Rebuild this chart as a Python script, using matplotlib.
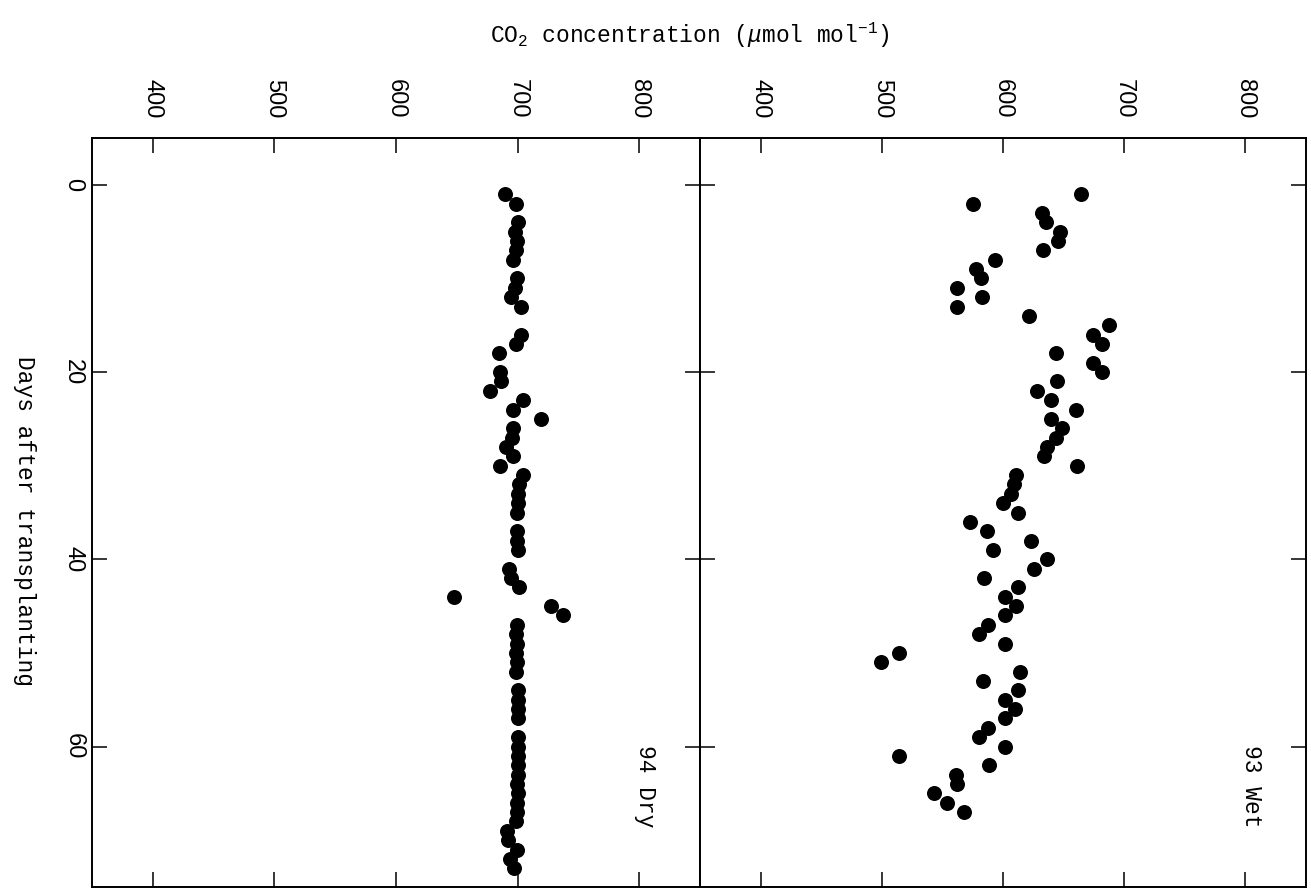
import matplotlib
matplotlib.use('Agg')
import matplotlib.pyplot as plt

plt.rcParams['font.family'] = 'Liberation Sans'
plt.rcParams['mathtext.fontset'] = 'custom'
plt.rcParams['mathtext.rm'] = 'Liberation Mono'
plt.rcParams['mathtext.it'] = 'Liberation Mono:italic'

# 1993 wet season, CO2 vs days after transplanting
days_wet = list(range(1, 68))
co2_wet = [664.6, 575.3, 632.4, 635.2, 647.1, 645.0, 632.8, 593.0, 578.0, 582.2,
           561.7, 582.4, 561.9, 621.6, 687.7, 674.4, 681.9, 644.0, 674.4, 681.6,
           644.3, 628.2, 639.9, 660.0, 639.5, 648.5, 643.7, 636.3, 633.6, 660.7,
           611.1, 609.2, 606.6, 599.8, 612.2, 572.5, 586.9, 622.8, 592.1, 636.7,
           625.8, 584.1, 612.3, 601.6, 610.5, 601.6, 587.9, 579.8, 601.9, 514.2,
           499.2, 614.0, 583.8, 612.3, 601.5, 610.3, 601.6, 587.6, 580.3, 601.6,
           514.0, 588.4, 561.5, 561.7, 543.3, 553.6, 567.5]

# 1994 dry season
days_dry = [1, 2, 4, 5, 6, 7, 8, 10, 11, 12, 13, 16, 17, 18, 20, 21, 22, 23, 24, 25,
            26, 27, 28, 29, 30, 31, 32, 33, 34, 35, 37, 38, 39, 41, 42, 43, 44, 45, 46, 47,
            48, 49, 50, 51, 52, 54, 55, 56, 57, 59, 60, 61, 62, 63, 64, 65, 66, 67, 68, 69,
            70, 71, 72, 73]
co2_dry = [689.7, 698.6, 700.0, 698.2, 699.9, 698.4, 696.5, 699.7, 697.8, 694.9,
           702.8, 702.4, 698.5, 684.6, 685.8, 686.6, 677.1, 704.2, 696.3, 719.4,
           696.5, 695.6, 690.3, 695.9, 685.6, 704.1, 701.2, 700.3, 700.4, 699.5,
           699.8, 699.9, 700.0, 693.3, 694.3, 701.5, 647.5, 727.7, 737.4, 699.5,
           699.0, 699.5, 699.0, 699.5, 699.0, 700.0, 700.5, 700.0, 700.0, 700.0,
           700.0, 700.5, 700.5, 700.0, 699.5, 700.0, 699.5, 699.5, 699.0, 691.5,
           692.2, 699.7, 693.8, 696.9]

co2_ticks = [400, 500, 600, 700, 800]
day_ticks = [0, 20, 40, 60]
panel_labels = ['94 Dry', '93 Wet']

W, H = 1311, 892
fig = plt.figure(figsize=(W / 100, H / 100), dpi=100)

bottom = 1 - 887 / H
height = (887 - 138) / H
ax_dry = fig.add_axes([92 / W, bottom, (700 - 92) / W, height])
ax_wet = fig.add_axes([700 / W, bottom, (1306 - 700) / W, height])

panels = [(ax_dry, days_dry, co2_dry), (ax_wet, days_wet, co2_wet)]
for i, (ax, d, c) in enumerate(panels):
    ax.plot(c, d, 'o', color='black', ms=10.8, mew=0)
    ax.set_xlim(350, 850)
    ax.set_ylim(75, -5)
    ax.set_xticks(co2_ticks)
    ax.set_yticks(day_ticks)
    for s in ax.spines.values():
        s.set_linewidth(1.4)
    ax.tick_params(which='major', direction='in', length=11, width=1.1,
                   top=True, bottom=True, left=True, right=True,
                   labeltop=True, labelbottom=False, labelright=False,
                   labelleft=(i == 0), labelsize=17)
    ax.tick_params(axis='x', labelrotation=-90, pad=14)
    ax.tick_params(axis='y', labelrotation=-90, pad=5.5)
    for lbl in ax.get_yticklabels():
        lbl.set_va('center')
    ax.text(0.91, 0.19, panel_labels[i], transform=ax.transAxes,
            rotation=-90, ha='center', va='top', family='Liberation Mono',
            fontsize=16.5)

fig.text(690 / W, 1 - 43 / H,
         r'CO$_2$ concentration ($\mu$mol mol$^{-1}$)',
         ha='center', va='baseline', family='Liberation Mono', fontsize=16.5)
fig.text(24 / W, 1 - 521 / H, 'Days after transplanting', rotation=-90,
         ha='center', va='center', family='Liberation Mono', fontsize=16.5)

fig.savefig('out.png', dpi=100)
